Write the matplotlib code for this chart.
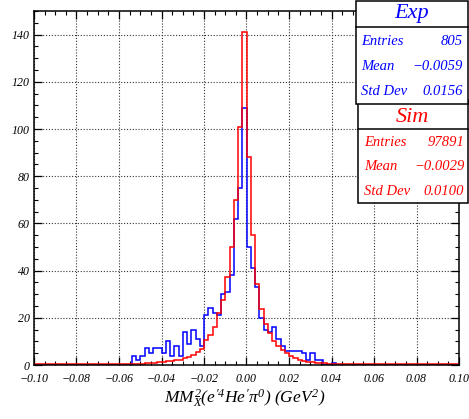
import numpy as np
import matplotlib
matplotlib.use("Agg")
import matplotlib.pyplot as plt
from matplotlib.patches import Rectangle
from matplotlib.lines import Line2D
from matplotlib.ticker import MultipleLocator, FuncFormatter

plt.rcParams['font.family'] = ['Liberation Serif', 'DejaVu Serif']
plt.rcParams['font.style'] = 'italic'
plt.rcParams['mathtext.fontset'] = 'custom'
plt.rcParams['mathtext.it'] = 'Liberation Serif:italic'
plt.rcParams['mathtext.rm'] = 'Liberation Serif:italic'

# 100 bins from -0.1 to 0.1
x_min, x_max, n_bins = -0.1, 0.1, 100

exp_counts = [
    0, 0, 0, 0, 0, 0, 0, 0, 0, 0,
    0, 0, 0, 0, 0, 0, 0, 0, 0, 0,
    0, 0, 0, 4, 2, 4, 7, 5, 7, 7,
    5, 10, 4, 8, 4, 14, 9, 15, 11, 8,
    21, 24, 22, 21, 30, 31, 38, 62, 75, 109,
    50, 41, 33, 20, 15, 14, 16, 11, 8, 6,
    6, 6, 6, 5, 2, 5, 2, 2, 0, 0,
    1, 0, 0, 0, 0, 0, 0, 0, 0, 0,
    0, 0, 0, 0, 0, 0, 0, 0, 0, 0,
    0, 0, 0, 0, 0, 0, 0, 0, 0, 0,
]

# simulation, scaled to the data
sim_counts = [
    0.3, 0.3, 0.3, 0.3, 0.3, 0.3, 0.3, 0.3, 0.3, 0.3,
    0.3, 0.3, 0.3, 0.3, 0.3, 0.3, 0.35, 0.35, 0.35, 0.35,
    0.4, 0.4, 0.4, 0.4, 0.5, 0.6, 0.7, 0.9, 1.0, 1.2,
    1.3, 1.5, 1.8, 2.0, 2.3, 2.8, 3.3, 4.2, 5.3, 6.8,
    10.6, 12.7, 16.2, 21.9, 27.7, 37.3, 50.0, 70.0, 100.7, 141.0,
    88.0, 55.0, 34.5, 23.6, 17.5, 13.5, 10.2, 8.0, 6.3, 5.0,
    3.9, 3.0, 2.3, 1.8, 1.4, 1.1, 0.9, 0.8, 0.7, 0.6,
    0.5, 0.5, 0.4, 0.4, 0.4, 0.4, 0.4, 0.3, 0.3, 0.3,
    0.3, 0.3, 0.3, 0.3, 0.3, 0.3, 0.3, 0.3, 0.3, 0.3,
    0.3, 0.3, 0.3, 0.3, 0.3, 0.3, 0.3, 0.3, 0.3, 0.3,
]

exp_stats = [("Entries", "805"), ("Mean", "\u22120.0059"), ("Std Dev", "0.0156")]
sim_stats = [("Entries", "97891"), ("Mean", "\u22120.0029"), ("Std Dev", "0.0100")]

W, H = 469, 419
fig = plt.figure(figsize=(W / 100, H / 100), dpi=100)
ax = fig.add_axes([34 / W, 1 - 365 / H, (459 - 34) / W, (365 - 11) / H])

edges = np.linspace(x_min, x_max, n_bins + 1)
ax.stairs(exp_counts, edges, baseline=None, color='#0000ff', lw=1.1)
ax.stairs(sim_counts, edges, baseline=None, color='#ff0000', lw=1.1)

ax.set_xlim(x_min, x_max)
ax.set_ylim(0, 150)

ax.xaxis.set_major_locator(MultipleLocator(0.02))
ax.xaxis.set_minor_locator(MultipleLocator(0.005))
ax.yaxis.set_major_locator(MultipleLocator(20))
ax.yaxis.set_minor_locator(MultipleLocator(5))

def xfmt(v, pos):
    s = "%.2f" % round(v, 4)
    if s == "-0.00":
        s = "0.00"
    return s.replace("-", "\u2212")

ax.xaxis.set_major_formatter(FuncFormatter(xfmt))
ax.yaxis.set_major_formatter(FuncFormatter(lambda v, p: "%d" % round(v)))

ax.tick_params(which='both', direction='in', top=True, right=True,
               labelsize=8.6, colors='black')
ax.tick_params(which='major', length=5.5, width=0.9)
ax.tick_params(which='minor', length=3, width=0.8)
ax.tick_params(axis='x', pad=6)
ax.tick_params(axis='y', pad=3)

ax.grid(True, which='major', color='#333333', lw=0.8, linestyle=(0, (1, 1.6)))
ax.set_axisbelow(True)
for sp in ax.spines.values():
    sp.set_linewidth(1.1)

fig.text(245 / W, 1 - 399 / H,
         r"$MM^{2}_{X}(e^{\prime 4}He^{\prime}\pi^{0})\ (GeV^{2})$",
         ha='center', va='center', fontsize=12.5)

def fx(x):
    return x / W

def fy(y):
    return 1 - y / H

def stat_box(x0, x1, y0, y1, ysep, title, ytitle, rows, yrows, xl, xr, col):
    fig.add_artist(Rectangle((fx(x0), fy(y1)), fx(x1) - fx(x0), fy(y0) - fy(y1),
                             transform=fig.transFigure, facecolor='white',
                             edgecolor='black', lw=1.1, zorder=5))
    fig.add_artist(Line2D([fx(x0), fx(x1)], [fy(ysep), fy(ysep)],
                          transform=fig.transFigure, color='black', lw=1.1, zorder=6))
    fig.text(fx((x0 + x1) / 2), fy(ytitle), title, ha='center', va='center',
             fontsize=16, color=col, zorder=7)
    for (lab, val), yr in zip(rows, yrows):
        fig.text(fx(xl), fy(yr), lab, ha='left', va='center', fontsize=10.5,
                 color=col, zorder=7)
        fig.text(fx(xr), fy(yr), val, ha='right', va='center', fontsize=10.5,
                 color=col, zorder=7)

stat_box(357.7, 467.7, 100, 203, 129.3, "Sim", 117, sim_stats,
         [142.7, 166.7, 191], 364, 464.3, '#ff0000')
stat_box(355.5, 467.7, 1, 104, 27, "Exp", 13.5, exp_stats,
         [41.7, 66, 91.7], 361, 462.7, '#0000ff')

fig.savefig("out.png", dpi=100)
